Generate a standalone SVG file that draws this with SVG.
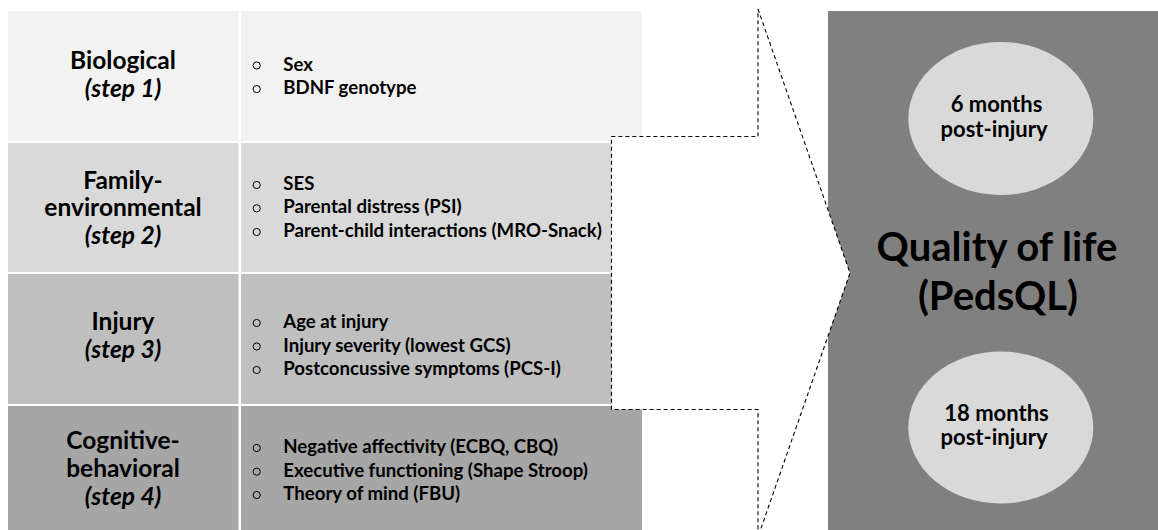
<svg xmlns="http://www.w3.org/2000/svg" width="1158" height="530" viewBox="0 0 1158 530">
<style>
text{font-family:Lato,"Liberation Sans",sans-serif;font-weight:bold;fill:#000}
.h{font-size:24.5px;text-anchor:middle}
.i{font-style:italic}
.l{font-size:18.6px}
.e{font-size:22px;text-anchor:middle}
.q{font-size:40px;text-anchor:middle}
.b{fill:none;stroke:#000;stroke-width:1}
.c{fill:#fff;stroke:#000;stroke-width:1.1;stroke-dasharray:4 3}
</style>
<rect width="1158" height="530" fill="#fff"/>
<g id="row1">
<rect x="8" y="11" width="230.5" height="130" fill="#f2f2f2"/>
<rect x="241" y="11" width="401" height="130" fill="#f2f2f2"/>
<text class="h" x="123" y="68.8">Biological</text>
<text class="h i" x="123" y="96.8">(step 1)</text>
<circle class="b" cx="256.7" cy="65.5" r="3.6"/><text class="l" x="283.3" y="70.7">Sex</text>
<circle class="b" cx="256.7" cy="89.1" r="3.6"/><text class="l" x="283.3" y="94.3">BDNF genotype</text>
</g>
<g id="row2">
<rect x="8" y="143" width="230.5" height="129" fill="#d9d9d9"/>
<rect x="241" y="143" width="401" height="129" fill="#d9d9d9"/>
<text class="h" x="123" y="188.5">Family-</text>
<text class="h" x="123" y="216">environmental</text>
<text class="h i" x="123" y="243.5">(step 2)</text>
<circle class="b" cx="256.7" cy="185" r="3.6"/><text class="l" x="283.3" y="190">SES</text>
<circle class="b" cx="256.7" cy="208.3" r="3.6"/><text class="l" x="283.3" y="213.3">Parental distress (PSI)</text>
<circle class="b" cx="256.7" cy="232" r="3.6"/><text class="l" x="283.3" y="237">Parent-child interactions (MRO-Snack)</text>
</g>
<g id="row3">
<rect x="8" y="274" width="230.5" height="130" fill="#bfbfbf"/>
<rect x="241" y="274" width="401" height="130" fill="#bfbfbf"/>
<text class="h" x="123" y="329.5">Injury</text>
<text class="h i" x="123" y="357.5">(step 3)</text>
<circle class="b" cx="256.7" cy="323" r="3.6"/><text class="l" x="283.3" y="328">Age at injury</text>
<circle class="b" cx="256.7" cy="346.5" r="3.6"/><text class="l" x="283.3" y="351.5">Injury severity (lowest GCS)</text>
<circle class="b" cx="256.7" cy="370" r="3.6"/><text class="l" x="283.3" y="375">Postconcussive symptoms (PCS-I)</text>
</g>
<g id="row4">
<rect x="8" y="406" width="230.5" height="124" fill="#a6a6a6"/>
<rect x="241" y="406" width="401" height="124" fill="#a6a6a6"/>
<text class="h" x="123" y="449">Cognitive-</text>
<text class="h" x="123" y="477">behavioral</text>
<text class="h i" x="123" y="505">(step 4)</text>
<circle class="b" cx="256.7" cy="448" r="3.6"/><text class="l" x="283.3" y="453">Negative affectivity (ECBQ, CBQ)</text>
<circle class="b" cx="256.7" cy="471.7" r="3.6"/><text class="l" x="283.3" y="476.7">Executive functioning (Shape Stroop)</text>
<circle class="b" cx="256.7" cy="495" r="3.6"/><text class="l" x="283.3" y="500">Theory of mind (FBU)</text>
</g>
<g id="outcome">
<rect x="828" y="11" width="330" height="519" fill="#808080"/>
</g>
<g id="connectors">
<path class="c" d="M758,9 L850,273 L758,537 L758,409.5 L611.5,409.5 L611.5,136.5 L758,136.5 Z"/>
</g>
<g id="qol">
<text class="q" x="997" y="261">Quality of life</text>
<text class="q" x="998" y="310">(PedsQL)</text>
</g>
<g id="m6">
<ellipse cx="1000.8" cy="118.5" rx="92.5" ry="76.5" fill="#d9d9d9"/>
<text class="e" x="996.5" y="112.3">6 months</text>
<text class="e" x="994" y="137">post-injury</text>
</g>
<g id="m18">
<ellipse cx="1000.8" cy="427.5" rx="92.5" ry="76" fill="#d9d9d9"/>
<text class="e" x="996.5" y="420.7">18 months</text>
<text class="e" x="994" y="445.3">post-injury</text>
</g>
</svg>
